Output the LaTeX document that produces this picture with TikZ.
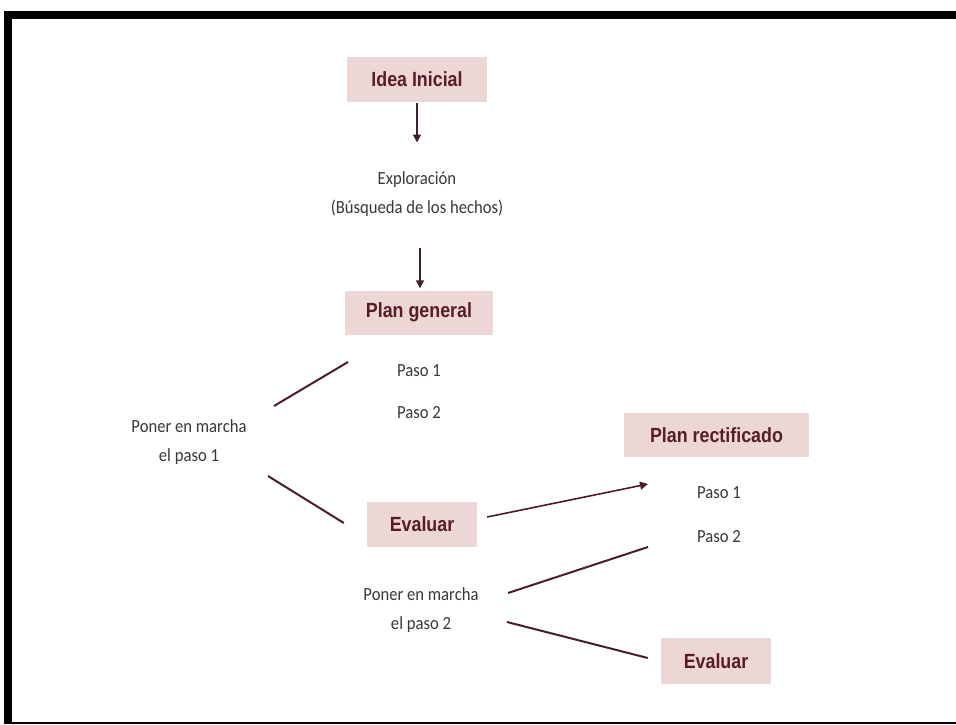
\documentclass[tikz,border=0pt]{standalone}
\usepackage{fontspec}
\setmainfont[FakeStretch=0.9]{Carlito}
\newfontfamily\boxfont[FakeStretch=0.87]{Liberation Sans}
\usetikzlibrary{arrows.meta}
\definecolor{boxpink}{HTML}{EDD6D6}
\definecolor{maroon}{HTML}{5A1C25}
\definecolor{linecol}{HTML}{4A1E24}
\definecolor{txtgray}{HTML}{383838}
\tikzset{
  box/.style={fill=boxpink, minimum height=45pt, inner sep=0pt, text=maroon,
    font=\boxfont\bfseries\fontsize{20.5}{24}\selectfont},
  txt/.style={text=txtgray, align=center, inner sep=0pt,
    font=\fontsize{18.5}{28.5}\selectfont},
  link/.style={draw=linecol, line width=2pt},
  arr/.style={draw=linecol, line width=1.6pt, -{Triangle[width=8pt,length=8pt]}}
}
\begin{document}
\begin{tikzpicture}[x=1pt,y=-1pt]
\useasboundingbox (0,0) rectangle (956,725);
% frame
\fill[black] (4,11) rectangle (956,19);
\fill[black] (4,11) rectangle (12,724);
\fill[black] (4,721.8) rectangle (956,724);
% nodes
\node[box, minimum width=140pt] (idea) at (417,79.5) {Idea Inicial};
\node[txt] (explor) at (417,194) {Exploración\\(Búsqueda de los hechos)};
\node[box, minimum width=148pt, minimum height=44pt] (plan) at (419,312.5) {Plan general};
\node[txt] (p1) at (419,371) {Paso 1};
\node[txt] (p2) at (419,413) {Paso 2};
\node[txt] (poner1) at (189,442) {Poner en marcha\\el paso 1};
\node[box, minimum width=110pt] (eval1) at (422,524.5) {Evaluar};
\node[box, minimum width=185pt, minimum height=44pt] (rect) at (716.5,435) {Plan rectificado};
\node[txt] (rp1) at (719,493) {Paso 1};
\node[txt] (rp2) at (719,537) {Paso 2};
\node[txt] (poner2) at (421,610) {Poner en marcha\\el paso 2};
\node[box, minimum width=110pt, minimum height=46pt] (eval2) at (716,661) {Evaluar};
% connectors
\draw[arr] ([shift={(0,1)}]idea.south) -- ([shift={(0,-51.5)}]explor.center);
\draw[arr] ([shift={(3,53.5)}]explor.center) -- ([shift={(1,-2)}]plan.north);
\draw[link] ([shift={(85,-36)}]poner1.center) -- ([shift={(-71,-9)}]p1.center);
\draw[link] ([shift={(79,34)}]poner1.center) -- ([shift={(-23,-1.5)}]eval1.west);
\draw[arr] ([shift={(10,-7.5)}]eval1.east) -- ([shift={(-71,-9)}]rp1.center);
\draw[link] ([shift={(87,-17)}]poner2.center) -- ([shift={(-71,10)}]rp2.center);
\draw[link] ([shift={(86,12)}]poner2.center) -- ([shift={(-13,-3)}]eval2.west);
\end{tikzpicture}
\end{document}
